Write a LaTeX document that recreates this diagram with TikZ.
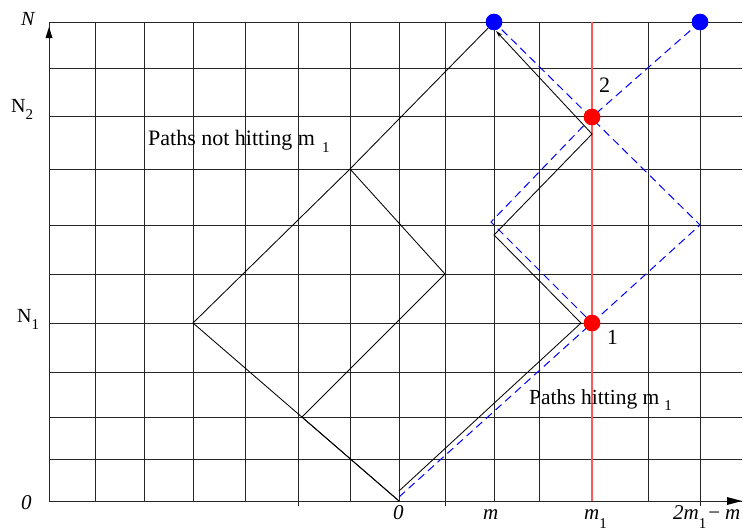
\documentclass[tikz,border=0pt]{standalone}
\usepackage{fontspec}
\setmainfont{Liberation Serif}
\usetikzlibrary{arrows.meta}
\newcommand\lowsub[2]{\raisebox{-#1}{\fontsize{15}{15}\selectfont\upshape #2}}
\begin{document}
\begin{tikzpicture}[x=1pt,y=-1pt,
  gridln/.style={draw=black!85,line width=1pt},
  redln/.style={draw=red!65,line width=1.2pt},
  pathln/.style={draw=black,line width=0.85pt,line join=miter},
  refl/.style={draw=blue,dash pattern=on 8pt off 5pt,line width=1pt},
  bdot/.style={circle,fill=blue,inner sep=0pt,minimum size=16.5pt},
  rdot/.style={circle,fill=red,inner sep=0pt,minimum size=16.5pt},
  lbl/.style={inner sep=0pt,anchor=base west,font=\fontsize{21}{24}\selectfont},
  axlbl/.style={inner sep=0pt,anchor=base west,font=\fontsize{20}{24}\selectfont}]
\useasboundingbox (0,0) rectangle (743,530);
% grid
\foreach \x in {95,144,193,245,298,350,399,445,494,539,648,700}
  \draw[gridln] (\x,22) -- (\x,501);
\foreach \y in {22,68,116,169,225,274,323,372,417,459}
  \draw[gridln] (49,\y) -- (742,\y);
\foreach \x in {298,445,700}
  \draw[gridln] (\x,501) -- (\x,506);
% axes
\coordinate (origin) at (49,501);
\coordinate (ytop) at (49,22);
\coordinate (xend) at (742,501);
\draw[gridln] (origin) -- (ytop);
\draw[gridln] (origin) -- (xend);
\fill[black] (49,27) -- (45.5,38) -- (52.5,38) -- cycle;
\fill[black] (742,501) -- (727,497) -- (727,505) -- cycle;
% red line m1
\coordinate (m1top) at (592,22);
\coordinate (m1bot) at (592,501);
\draw[redln] (m1top) -- (m1bot);
% dots (as nodes)
\node[bdot] (T) at (494,22) {};
\node[bdot] (T2) at (700,22) {};
\node[rdot] (R2) at (592,117) {};
\node[rdot] (R1) at (592,323) {};
% vertices
\coordinate (O) at (399,501);
\coordinate (A) at (193,323);
\coordinate (B) at (350,169);
\coordinate (C) at (302,417);
\coordinate (D) at (445,274);
\coordinate (S) at (399,491);
\coordinate (E) at (581,323);
\coordinate (F) at (494,235);
\coordinate (G) at (592,134);
\coordinate (H) at (496,31);
\coordinate (S2) at (399,497);
\coordinate (J) at (700,225);
\coordinate (K) at (491,222);
% blue dashed reflected paths
\draw[refl] (S2) -- (R1.center) -- (J) -- (T.center);
\draw[refl] (T2.center) -- (R2.center) -- (K) -- (R1.center);
% black paths
\draw[pathln] (O) -- (A) -- (B) -- (T.center);
\draw[pathln] (O) -- (C) -- (D) -- (B);
\draw[pathln,-{Stealth[length=7pt,width=4pt]}] (S) -- (E) -- (F) -- (G) -- (H);
% redraw dots on top
\node[bdot] at (T) {};
\node[bdot] at (T2) {};
\node[rdot] at (R2) {};
\node[rdot] at (R1) {};
% labels
\node[axlbl,font=\fontsize{20}{24}\selectfont\itshape] (ylab) at (21,25) {N};
\node[axlbl] (lN2) at (11,112) {N\lowsub{7pt}{2}};
\node[axlbl] (lN1) at (17,322) {N\lowsub{7pt}{1}};
\node[lbl,font=\fontsize{21}{24}\selectfont\itshape] (lzero) at (21,509) {0};
\node[lbl,font=\fontsize{22}{26}\selectfont] (tnot) at (148,145) {Paths not hitting m\hspace{7pt}\lowsub{7pt}{1}};
\node[lbl,font=\fontsize{21.5}{26}\selectfont] (thit) at (529,404) {Paths hitting m\hspace{5pt}\lowsub{6pt}{1}};
\node[lbl,font=\fontsize{21}{24}\selectfont\itshape] (bx0) at (393,519) {0};
\node[lbl,font=\fontsize{21}{24}\selectfont\itshape] (bxm) at (483,519) {m};
\node[lbl,font=\fontsize{21}{24}\selectfont\itshape] (bxm1) at (584,519) {m\lowsub{9pt}{1}};
\node[lbl,font=\fontsize{21}{24}\selectfont\itshape] (bxr) at (673,519) {2m\lowsub{9pt}{1}\hspace{2pt}{\upshape −}\hspace{5pt}m};
\node[lbl,font=\fontsize{22}{26}\selectfont] (l2) at (599,92) {2};
\node[lbl,font=\fontsize{21.5}{26}\selectfont] (l1) at (607,344) {1};
\end{tikzpicture}
\end{document}
